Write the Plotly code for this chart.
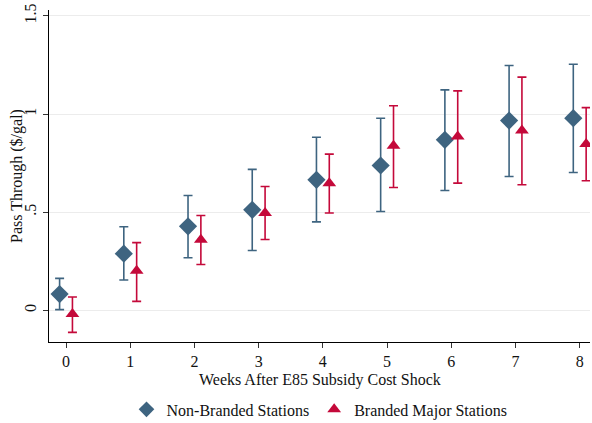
import plotly.graph_objects as go

weeks = [0, 1, 2, 3, 4, 5, 6, 7, 8]
tick_labels = ["0", "1", "2", "3", "4", "5", "6", "7", "8"]

nb_est = [0.083, 0.289, 0.428, 0.512, 0.665, 0.738, 0.869, 0.967, 0.979]
nb_hi = [0.163, 0.426, 0.585, 0.718, 0.882, 0.979, 1.123, 1.247, 1.254]
nb_lo = [0.004, 0.155, 0.268, 0.305, 0.451, 0.504, 0.611, 0.682, 0.702]

br_est = [-0.018, 0.202, 0.360, 0.496, 0.648, 0.838, 0.886, 0.916, 0.848]
br_hi = [0.068, 0.345, 0.483, 0.631, 0.796, 1.042, 1.118, 1.188, 1.033]
br_lo = [-0.112, 0.046, 0.234, 0.361, 0.496, 0.626, 0.648, 0.640, 0.660]

x_title = "Weeks After E85 Subsidy Cost Shock"
y_title = "Pass Through ($/gal)"

offset = 0.1
blue = "#3e6480"
red = "#c4093a"

fig = go.Figure()
fig.add_trace(go.Scatter(
    x=[w - offset for w in weeks], y=nb_est, mode="markers",
    name="Non-Branded Stations",
    marker=dict(symbol="diamond", size=14, color=blue),
    error_y=dict(type="data", symmetric=False,
                 array=[h - e for h, e in zip(nb_hi, nb_est)],
                 arrayminus=[e - l for e, l in zip(nb_est, nb_lo)],
                 color=blue, thickness=1.6, width=4.5),
))
fig.add_trace(go.Scatter(
    x=[w + offset for w in weeks], y=br_est, mode="markers",
    name="Branded Major Stations",
    marker=dict(symbol="triangle-up", size=12, color=red),
    error_y=dict(type="data", symmetric=False,
                 array=[h - e for h, e in zip(br_hi, br_est)],
                 arrayminus=[e - l for e, l in zip(br_est, br_lo)],
                 color=red, thickness=1.6, width=4.5),
))

font = "Liberation Serif, Times New Roman, serif"
fig.update_layout(
    width=592, height=423,
    margin=dict(l=49, r=2, t=10, b=81, autoexpand=False),
    paper_bgcolor="white", plot_bgcolor="white",
    font=dict(family=font, size=16, color="#111111"),
    showlegend=True,
    legend=dict(orientation="h", x=0.5, xanchor="center", y=-0.152, yanchor="top",
                font=dict(family=font, size=16), itemsizing="constant",
                traceorder="normal"),
    xaxis=dict(range=[-0.265, 8.16], tickvals=weeks, ticktext=tick_labels,
               automargin=False,
               showgrid=False, zeroline=False, showline=True, linecolor="black",
               linewidth=1.3, ticks="outside", ticklen=5, tickcolor="#333333",
               tickfont=dict(size=16)),
    yaxis=dict(range=[-0.161, 1.53], tickvals=[0, 0.5, 1, 1.5],
               ticktext=["0", ".5", "1", "1.5"], tickangle=-90,
               automargin=False,
               showgrid=True, gridcolor="#ececec", gridwidth=1.2,
               zeroline=False, showline=True, linecolor="black", linewidth=1.3,
               ticks="outside", ticklen=5, tickcolor="#333333",
               tickfont=dict(size=16)),
    annotations=[
        dict(text=x_title, xref="paper", yref="paper", x=0.5, y=0,
             xanchor="center", yanchor="middle", yshift=-37.5, showarrow=False,
             font=dict(size=16)),
        dict(text=y_title, xref="paper", yref="paper", x=0, y=0.5,
             xanchor="center", yanchor="middle", xshift=-32, textangle=-90,
             showarrow=False, font=dict(size=16)),
    ],
)

fig.write_html(
    "out.html",
    config={"displayModeBar": False},
    post_script="document.body.style.margin='0';document.body.style.overflow='hidden';",
)
